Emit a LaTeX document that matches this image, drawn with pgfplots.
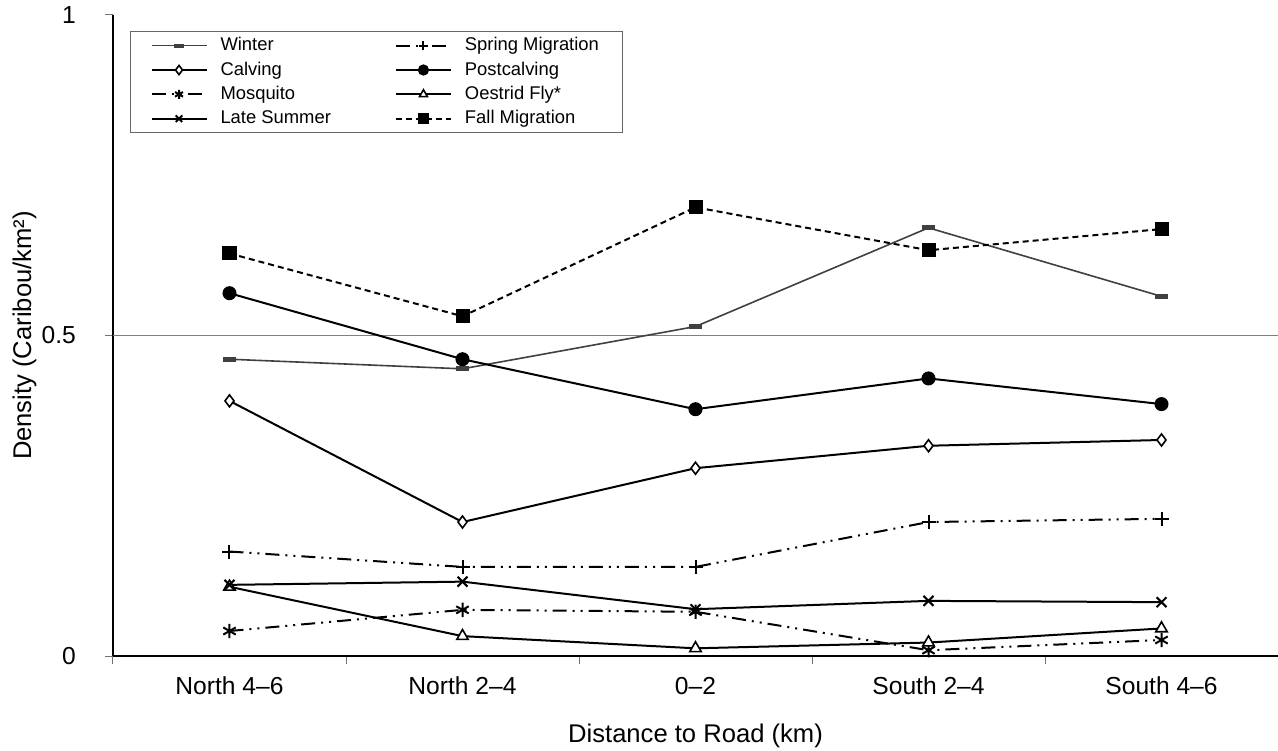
\documentclass[border=0pt]{standalone}
\usepackage{fontspec}
\setmainfont{Liberation Sans}
\usepackage{pgfplots}
\pgfplotsset{compat=1.18}
\usepackage{pgfplotstable}
\pgfplotstableread{
x Winter Spring Calving Post Mosq Oest Late Fall
0 0.463 0.163 0.398 0.566 0.039 0.108 0.111 0.628
1 0.448 0.139 0.209 0.463 0.072 0.031 0.116 0.530
2 0.514 0.139 0.293 0.385 0.069 0.012 0.073 0.700
3 0.668 0.209 0.328 0.433 0.009 0.021 0.086 0.633
4 0.561 0.214 0.337 0.393 0.025 0.043 0.084 0.666
}\data
\begin{document}
\begin{tikzpicture}
\begin{axis}[
  at={(0,0)}, anchor=south west,
  scale only axis, width=582.5pt, height=320.5pt,
  xmin=-0.5, xmax=4.5, ymin=0, ymax=1,
  axis lines=left, axis line style={-, line width=1pt},
  xtick={0,1,2,3,4},
  xticklabels={North 4–6, North 2–4, 0–2, South 2–4, South 4–6},
  major x tick style={draw=none},
  minor xtick={-0.5,0.5,1.5,2.5,3.5,4.5},
  minor x tick style={black!55, line width=0.5pt},
  minor tick length=4pt,
  ytick={0,0.5,1}, yticklabels={0,0.5,1},
  major y tick style={black!55, line width=0.5pt},
  major tick length=4pt,
  tick align=outside,
  extra y ticks={0.5}, extra y tick labels={},
  extra y tick style={grid=major, major grid style={black!50, line width=0.6pt}, tick style={draw=none}},
  /pgf/number format/assume math mode=true,
  ticklabel style={font=\fontsize{12.3}{14}\selectfont},
  xticklabel style={yshift=-3pt},
  yticklabel style={xshift=-11pt},
  xlabel={Distance to Road (km)},
  ylabel={Density (Caribou/km²)},
  label style={font=\fontsize{12.8}{15}\selectfont},
  xlabel style={at={(axis description cs:0.5,-0.1245)}, anchor=center},
  ylabel style={at={(axis description cs:-0.076,0.5)}, anchor=center},
  legend columns=2,
  legend cell align=left,
  legend style={at={(axis description cs:0.0146,0.975)}, anchor=north west,
    draw=black!60, line width=0.5pt, font=\fontsize{9.2}{11}\selectfont,
    inner xsep=10pt, inner ysep=1pt,
    /tikz/every odd column/.append style={column sep=4.5pt},
    /tikz/every even column/.append style={column sep=30pt},
    /tikz/row sep=0pt},
  legend image code/.code={\draw[mark repeat=2,mark phase=2,#1] plot coordinates {(0pt,0pt)(13.75pt,0pt)(27.5pt,0pt)};},
  legend image post style={mark size=2.3pt},
  every axis plot/.append style={line width=1pt, mark size=3pt},
]
\addplot[black!75, line width=0.8pt, mark=square*, mark options={fill=black!75, xscale=1.0, yscale=0.3}] table[x=x,y=Winter]{\data};
\addlegendentry{Winter}
\addplot[black, dash pattern=on 7pt off 3pt on 1pt off 3pt on 1pt off 3pt, mark=+, mark options={solid}, mark size=3.5pt] table[x=x,y=Spring]{\data};
\addlegendentry{Spring Migration}
\addplot[black, mark=diamond*, mark options={fill=white, solid, line width=0.8pt}] table[x=x,y=Calving]{\data};
\addlegendentry{Calving}
\addplot[black, mark=*, mark options={fill=black}] table[x=x,y=Post]{\data};
\addlegendentry{Postcalving}
\addplot[black, dash pattern=on 7pt off 3pt on 1pt off 3pt on 1pt off 3pt, mark=asterisk, mark options={solid}, mark size=3.6pt] table[x=x,y=Mosq]{\data};
\addlegendentry{Mosquito}
\addplot[black, mark=triangle*, mark options={fill=white, solid, line width=0.8pt}, mark size=3.3pt] table[x=x,y=Oest]{\data};
\addlegendentry{Oestrid Fly*}
\addplot[black, mark=x, mark options={solid}, mark size=3.5pt] table[x=x,y=Late]{\data};
\addlegendentry{Late Summer}
\addplot[black, dash pattern=on 3pt off 2pt, mark=square*, mark options={solid, fill=black}] table[x=x,y=Fall]{\data};
\addlegendentry{Fall Migration}
\end{axis}
\pgfresetboundingbox
\path (-56.5pt,-47pt) rectangle (582.5pt,328pt);
\end{tikzpicture}
\end{document}
